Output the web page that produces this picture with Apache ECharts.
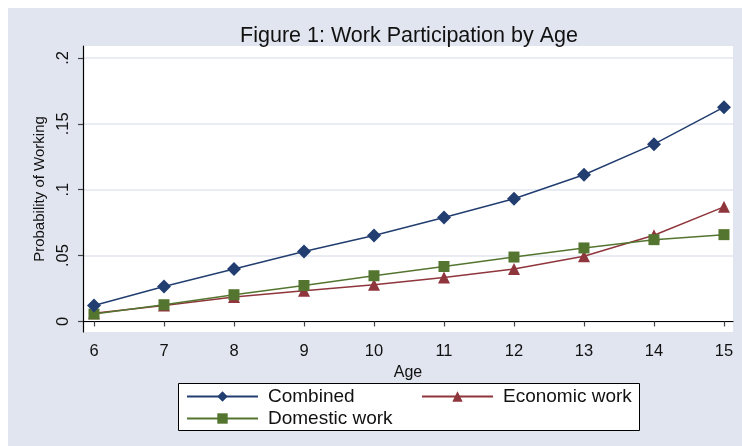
<!DOCTYPE html>
<html>
<head>
<meta charset="utf-8">
<script src="https://cdn.jsdelivr.net/npm/echarts@6/dist/echarts.min.js"></script>
<style>
html,body{margin:0;padding:0;background:#fff;}
#chart{width:742px;height:446px;}
</style>
</head>
<body>
<div id="chart"></div>
<script>
// ---- data ----
const ages = [6, 7, 8, 9, 10, 11, 12, 13, 14, 15];
const combined = [0.0121, 0.0266, 0.0398, 0.0531, 0.0653, 0.0789, 0.0932, 0.1114, 0.1346, 0.1627];
const economic = [0.0062, 0.0122, 0.0185, 0.0233, 0.0278, 0.0334, 0.0399, 0.0495, 0.0654, 0.0870];
const domestic = [0.0056, 0.0127, 0.0203, 0.0273, 0.0347, 0.0417, 0.0489, 0.0558, 0.0621, 0.0659];
const yTicks = [0, 0.05, 0.1, 0.15, 0.2];
const yTickLabels = ['0', '.05', '.1', '.15', '.2'];
const xTicks = ages;
const titleText = 'Figure 1: Work Participation by Age';
const seriesNames = ['Combined', 'Economic work', 'Domestic work'];

const NAVY = '#223E70', MAROON = '#8F353C', GREEN = '#54752F';
const FONT = '"Liberation Sans", Arial, sans-serif';

function pairs(ys) { return ages.map((a, i) => [a, ys[i]]); }

const chart = echarts.init(document.getElementById('chart'), null, {renderer: 'canvas'});
chart.setOption({
  animation: false,
  backgroundColor: '#ffffff',
  textStyle: {fontFamily: FONT},
  graphic: [
    {type: 'rect', z: -100, silent: true, shape: {x: 8, y: 8, width: 734, height: 438}, style: {fill: '#E1E5EF'}},
    {type: 'rect', z: 1, silent: true, shape: {x: 178.5, y: 383.5, width: 461, height: 47}, style: {fill: '#ffffff', stroke: '#000000', lineWidth: 1}}
  ],
  title: {
    text: titleText,
    left: 409, top: 25, textAlign: 'center', padding: 0,
    textStyle: {fontFamily: FONT, fontSize: 21.5, fontWeight: 'normal', color: '#111'}
  },
  grid: {left: 83, top: 46, right: 9, bottom: 114, show: true, backgroundColor: '#ffffff', borderWidth: 0, containLabel: false},
  xAxis: {
    type: 'value', min: 5.843, max: 15.129,
    name: 'Age', nameLocation: 'middle', nameGap: 27,
    nameTextStyle: {fontFamily: FONT, fontSize: 16, color: '#111'},
    axisLine: {show: true, lineStyle: {color: '#000', width: 1.2}},
    axisTick: {show: true, length: 5, customValues: xTicks, lineStyle: {color: '#444', width: 1.2}},
    axisLabel: {customValues: xTicks, margin: 11, fontFamily: FONT, fontSize: 16.5, color: '#111'},
    splitLine: {show: false}
  },
  yAxis: {
    type: 'value', min: -0.008, max: 0.2091,
    name: 'Probability of Working', nameLocation: 'middle', nameGap: 27, nameRotate: 90,
    nameTextStyle: {fontFamily: FONT, fontSize: 15, color: '#111'},
    axisLine: {show: true, lineStyle: {color: '#000', width: 1.2}},
    axisTick: {show: true, length: 5, customValues: yTicks, lineStyle: {color: '#444', width: 1.2}},
    axisLabel: {
      customValues: yTicks, rotate: 90, margin: 11, fontFamily: FONT, fontSize: 16.5, color: '#111',
      formatter: function (v) { const i = yTicks.findIndex(t => Math.abs(t - v) < 1e-9); return i >= 0 ? yTickLabels[i] : ''; }
    },
    splitLine: {show: true, lineStyle: {color: '#E2E6EE', width: 1.5}}
  },
  legend: [
    {
      data: [seriesNames[0], seriesNames[2]], orient: 'vertical', left: 186, top: 387, padding: 0,
      itemWidth: 71, itemHeight: 13, itemGap: 3, z: 5,
      textStyle: {fontFamily: FONT, fontSize: 19, color: '#111', padding: [0, 0, 0, 5]}
    },
    {
      data: [seriesNames[1]], orient: 'vertical', left: 421, top: 387, padding: 0,
      itemWidth: 71, itemHeight: 13, itemGap: 3, z: 5,
      textStyle: {fontFamily: FONT, fontSize: 19, color: '#111', padding: [0, 0, 0, 5]}
    }
  ],
  series: [
    {name: seriesNames[0], type: 'line', data: pairs(combined), symbol: 'diamond', symbolSize: 14,
      itemStyle: {color: NAVY}, lineStyle: {color: NAVY, width: 1.5}, z: 4},
    {name: seriesNames[1], type: 'line', data: pairs(economic), symbol: 'triangle', symbolSize: [12, 12],
      itemStyle: {color: MAROON}, lineStyle: {color: MAROON, width: 1.5}, z: 2},
    {name: seriesNames[2], type: 'line', data: pairs(domestic), symbol: 'rect', symbolSize: 11,
      itemStyle: {color: GREEN}, lineStyle: {color: GREEN, width: 1.5}, z: 3}
  ]
});
</script>
</body>
</html>
